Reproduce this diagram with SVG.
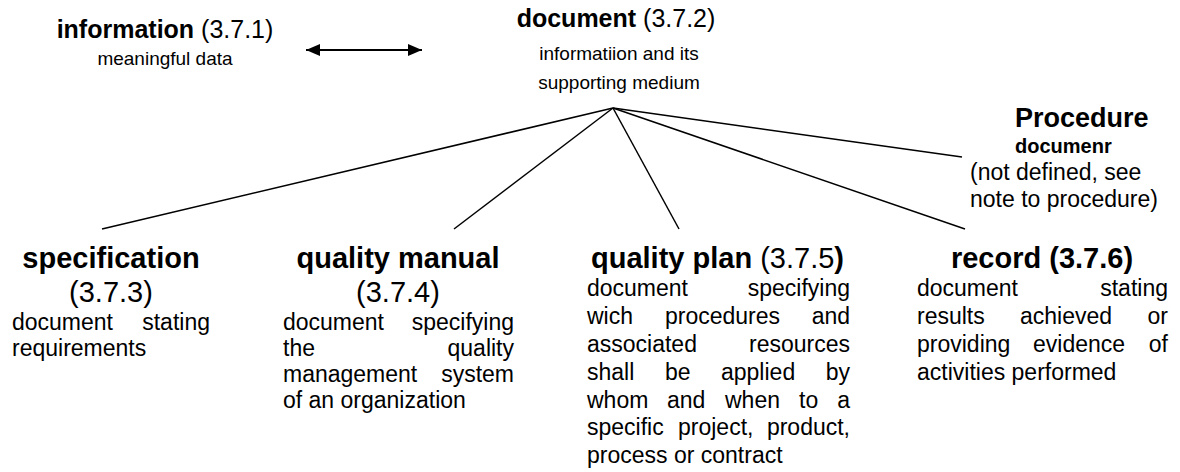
<svg xmlns="http://www.w3.org/2000/svg" width="1180" height="472" viewBox="0 0 1180 472">
<defs>
<marker id="ah" viewBox="0 0 14 12" refX="14" refY="6" markerWidth="14" markerHeight="12" markerUnits="userSpaceOnUse" orient="auto-start-reverse">
<path d="M0,0 L14,6 L0,12 Z" fill="#000"/>
</marker>
<style>
text{font-family:"Liberation Sans",Arial,sans-serif;fill:#000}
.t{font-weight:bold;font-size:25px}
.n{font-weight:normal;font-size:25px}
.T{font-weight:bold;font-size:29px}
.N{font-weight:normal;font-size:29px}
.s{font-size:19px}
.b{font-size:23px}
.c{text-anchor:middle}
.e{text-anchor:end}
.cn line{stroke:#000;stroke-width:1.5;fill:none}
</style>
</defs>
<rect width="1180" height="472" fill="#fff"/>
<g class="cn" id="connectors">
<line x1="306" y1="50" x2="422" y2="50" marker-start="url(#ah)" marker-end="url(#ah)" style="stroke-width:2"/>
<line x1="613" y1="108" x2="102" y2="229"/>
<line x1="613" y1="108" x2="454" y2="229"/>
<line x1="613" y1="108" x2="679" y2="229"/>
<line x1="613" y1="108" x2="965" y2="229"/>
<line x1="613" y1="108" x2="962" y2="157"/>
</g>
<g id="information">
<text x="165" y="38" class="c"><tspan class="t">information</tspan><tspan class="n"> (3.7.1)</tspan></text>
<text x="165" y="65" class="s c">meaningful data</text>
</g>
<g id="document">
<text x="616" y="27" class="c"><tspan class="t">document</tspan><tspan class="n"> (3.7.2)</tspan></text>
<text x="619" y="60" class="s c">informatiion and its</text>
<text x="619" y="89" class="s c">supporting medium</text>
</g>
<g id="procedure">
<text x="1015" y="127" class="t" style="font-size:27px">Procedure</text>
<text x="1015" y="153" class="t" style="font-size:20px">documenr</text>
<text x="970" y="180" class="b">(not defined, see</text>
<text x="970" y="207" class="b">note to procedure)</text>
</g>
<g id="specification">
<text x="111" y="268" class="T c">specification</text>
<text x="111" y="302" class="N c">(3.7.3)</text>
<text x="12" y="330" class="b">document</text>
<text x="210" y="330" class="b e">stating</text>
<text x="12" y="356" class="b">requirements</text>
</g>
<g id="quality-manual">
<text x="398" y="268" class="T c">quality manual</text>
<text x="398" y="302" class="N c">(3.7.4)</text>
<text x="283" y="330" class="b">document</text>
<text x="514" y="330" class="b e">specifying</text>
<text x="283" y="356" class="b">the</text>
<text x="514" y="356" class="b e">quality</text>
<text x="283" y="382" class="b">management</text>
<text x="514" y="382" class="b e">system</text>
<text x="283" y="408" class="b">of an organization</text>
</g>
<g id="quality-plan">
<text x="591" y="268"><tspan class="T">quality plan</tspan><tspan class="N"> (3.7.5</tspan><tspan class="T">)</tspan></text>
<text x="587" y="296" class="b">document</text>
<text x="850" y="296" class="b e">specifying</text>
<text x="587" y="324" class="b">wich</text>
<text x="665" y="324" class="b">procedures</text>
<text x="850" y="324" class="b e">and</text>
<text x="587" y="352" class="b">associated</text>
<text x="850" y="352" class="b e">resources</text>
<text x="587" y="380" class="b">shall</text>
<text x="665" y="380" class="b">be</text>
<text x="721" y="380" class="b">applied</text>
<text x="850" y="380" class="b e">by</text>
<text x="587" y="408" class="b">whom</text>
<text x="667" y="408" class="b">and</text>
<text x="725" y="408" class="b">when</text>
<text x="799" y="408" class="b">to</text>
<text x="850" y="408" class="b e">a</text>
<text x="587" y="435" class="b">specific</text>
<text x="678" y="435" class="b">project,</text>
<text x="850" y="435" class="b e">product,</text>
<text x="587" y="463" class="b">process or contract</text>
</g>
<g id="record">
<text x="1042" y="268" class="T c">record (3.7.6)</text>
<text x="917" y="296" class="b">document</text>
<text x="1168" y="296" class="b e">stating</text>
<text x="917" y="324" class="b">results</text>
<text x="1020" y="324" class="b">achieved</text>
<text x="1168" y="324" class="b e">or</text>
<text x="917" y="352" class="b">providing</text>
<text x="1033" y="352" class="b">evidence</text>
<text x="1168" y="352" class="b e">of</text>
<text x="917" y="380" class="b">activities performed</text>
</g>
</svg>
